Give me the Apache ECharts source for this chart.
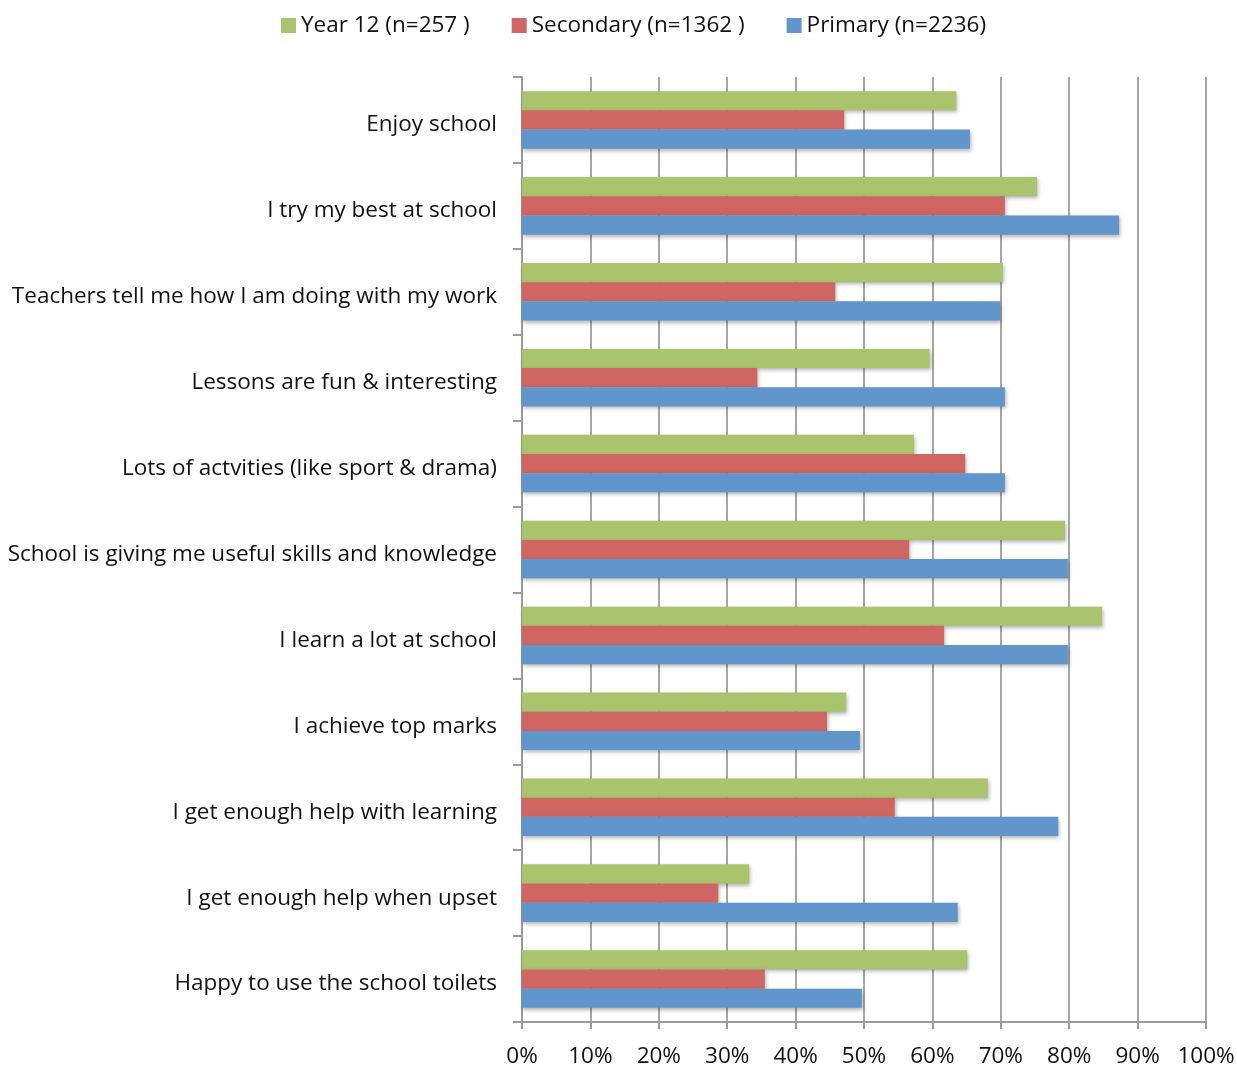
<!DOCTYPE html>
<html>
<head>
<meta charset="utf-8">
<script src="https://cdn.jsdelivr.net/npm/echarts@6/dist/echarts.min.js"></script>
<style>
  html, body { margin: 0; padding: 0; background: #fff; }
  #chart { width: 1237px; height: 1066px; }
</style>
</head>
<body>
<div id="chart"></div>
<script>
// categories, top to bottom
var categories = [
  'Enjoy school',
  'I try my best at school',
  'Teachers tell me how I am doing with my work',
  'Lessons are fun & interesting',
  'Lots of actvities (like sport & drama)',
  'School is giving me useful skills and knowledge',
  'I learn a lot at school',
  'I achieve top marks',
  'I get enough help with learning',
  'I get enough help when upset',
  'Happy to use the school toilets'
]
var seriesNames = ['Year 12 (n=257 )', 'Secondary (n=1362 )', 'Primary (n=2236)']
// percent values
var year12 = [63.5, 75.3, 70.3, 59.6, 57.3, 79.4, 84.8, 47.4, 68.1, 33.2, 65.1]
var secondary = [47.1, 70.6, 45.8, 34.4, 64.8, 56.6, 61.7, 44.6, 54.5, 28.7, 35.5]
var primary = [65.5, 87.3, 69.9, 70.6, 70.6, 79.8, 79.8, 49.4, 78.4, 63.7, 49.7]
var xTicks = [0, 10, 20, 30, 40, 50, 60, 70, 80, 90, 100]

var font = '"Open Sans"'
var fontSize = 22.5
var colors = ['#a9c46c', '#cf6661', '#6096cb']

function barSeries(name, data, i) {
  return {
    name: name,
    type: 'bar',
    data: data,
    barGap: '0%',
    barCategoryGap: '33%',
    itemStyle: {
      color: colors[i],
      shadowColor: 'rgba(0, 0, 0, 0.3)',
      shadowBlur: 4,
      shadowOffsetX: 1,
      shadowOffsetY: 2
    }
  }
}

var chart = echarts.init(document.getElementById('chart'))
chart.setOption({
  animation: false,
  backgroundColor: '#fff',
  textStyle: { fontFamily: font },
  legend: {
    left: 276,
    top: 9,
    icon: 'rect',
    itemWidth: 15,
    itemHeight: 15,
    itemGap: 42,
    data: seriesNames,
    textStyle: { fontFamily: font, fontSize: fontSize, color: '#111', padding: [4, 0, 0, 0] }
  },
  grid: {
    left: 522,
    right: 31,
    top: 77,
    bottom: 44,
    outerBoundsMode: 'none'
  },
  xAxis: {
    type: 'value',
    min: 0,
    max: 100,
    interval: 10,
    axisLine: { show: true, lineStyle: { color: '#9a9a9a', width: 2 } },
    axisTick: { show: true, length: 7, lineStyle: { color: '#9a9a9a', width: 2 } },
    splitLine: { show: true, lineStyle: { color: '#a6a6a6', width: 2 } },
    axisLabel: {
      margin: 23,
      fontFamily: font,
      fontSize: fontSize,
      color: '#111',
      formatter: function (v) { return xTicks.indexOf(v) >= 0 ? v + '%' : '' }
    }
  },
  yAxis: {
    type: 'category',
    inverse: true,
    data: categories,
    axisLine: { show: true, lineStyle: { color: '#9a9a9a', width: 2 } },
    axisTick: { show: true, length: 9, lineStyle: { color: '#9a9a9a', width: 2 } },
    axisLabel: {
      margin: 25,
      fontFamily: font,
      fontSize: fontSize,
      color: '#111',
      formatter: function (v) { return '{a|' + v + '}' },
      rich: {
        a: { fontFamily: font, fontSize: fontSize, color: '#111', padding: [10, 0, 0, 0] }
      }
    }
  },
  series: [
    barSeries(seriesNames[0], year12, 0),
    barSeries(seriesNames[1], secondary, 1),
    barSeries(seriesNames[2], primary, 2)
  ]
})
</script>
</body>
</html>
